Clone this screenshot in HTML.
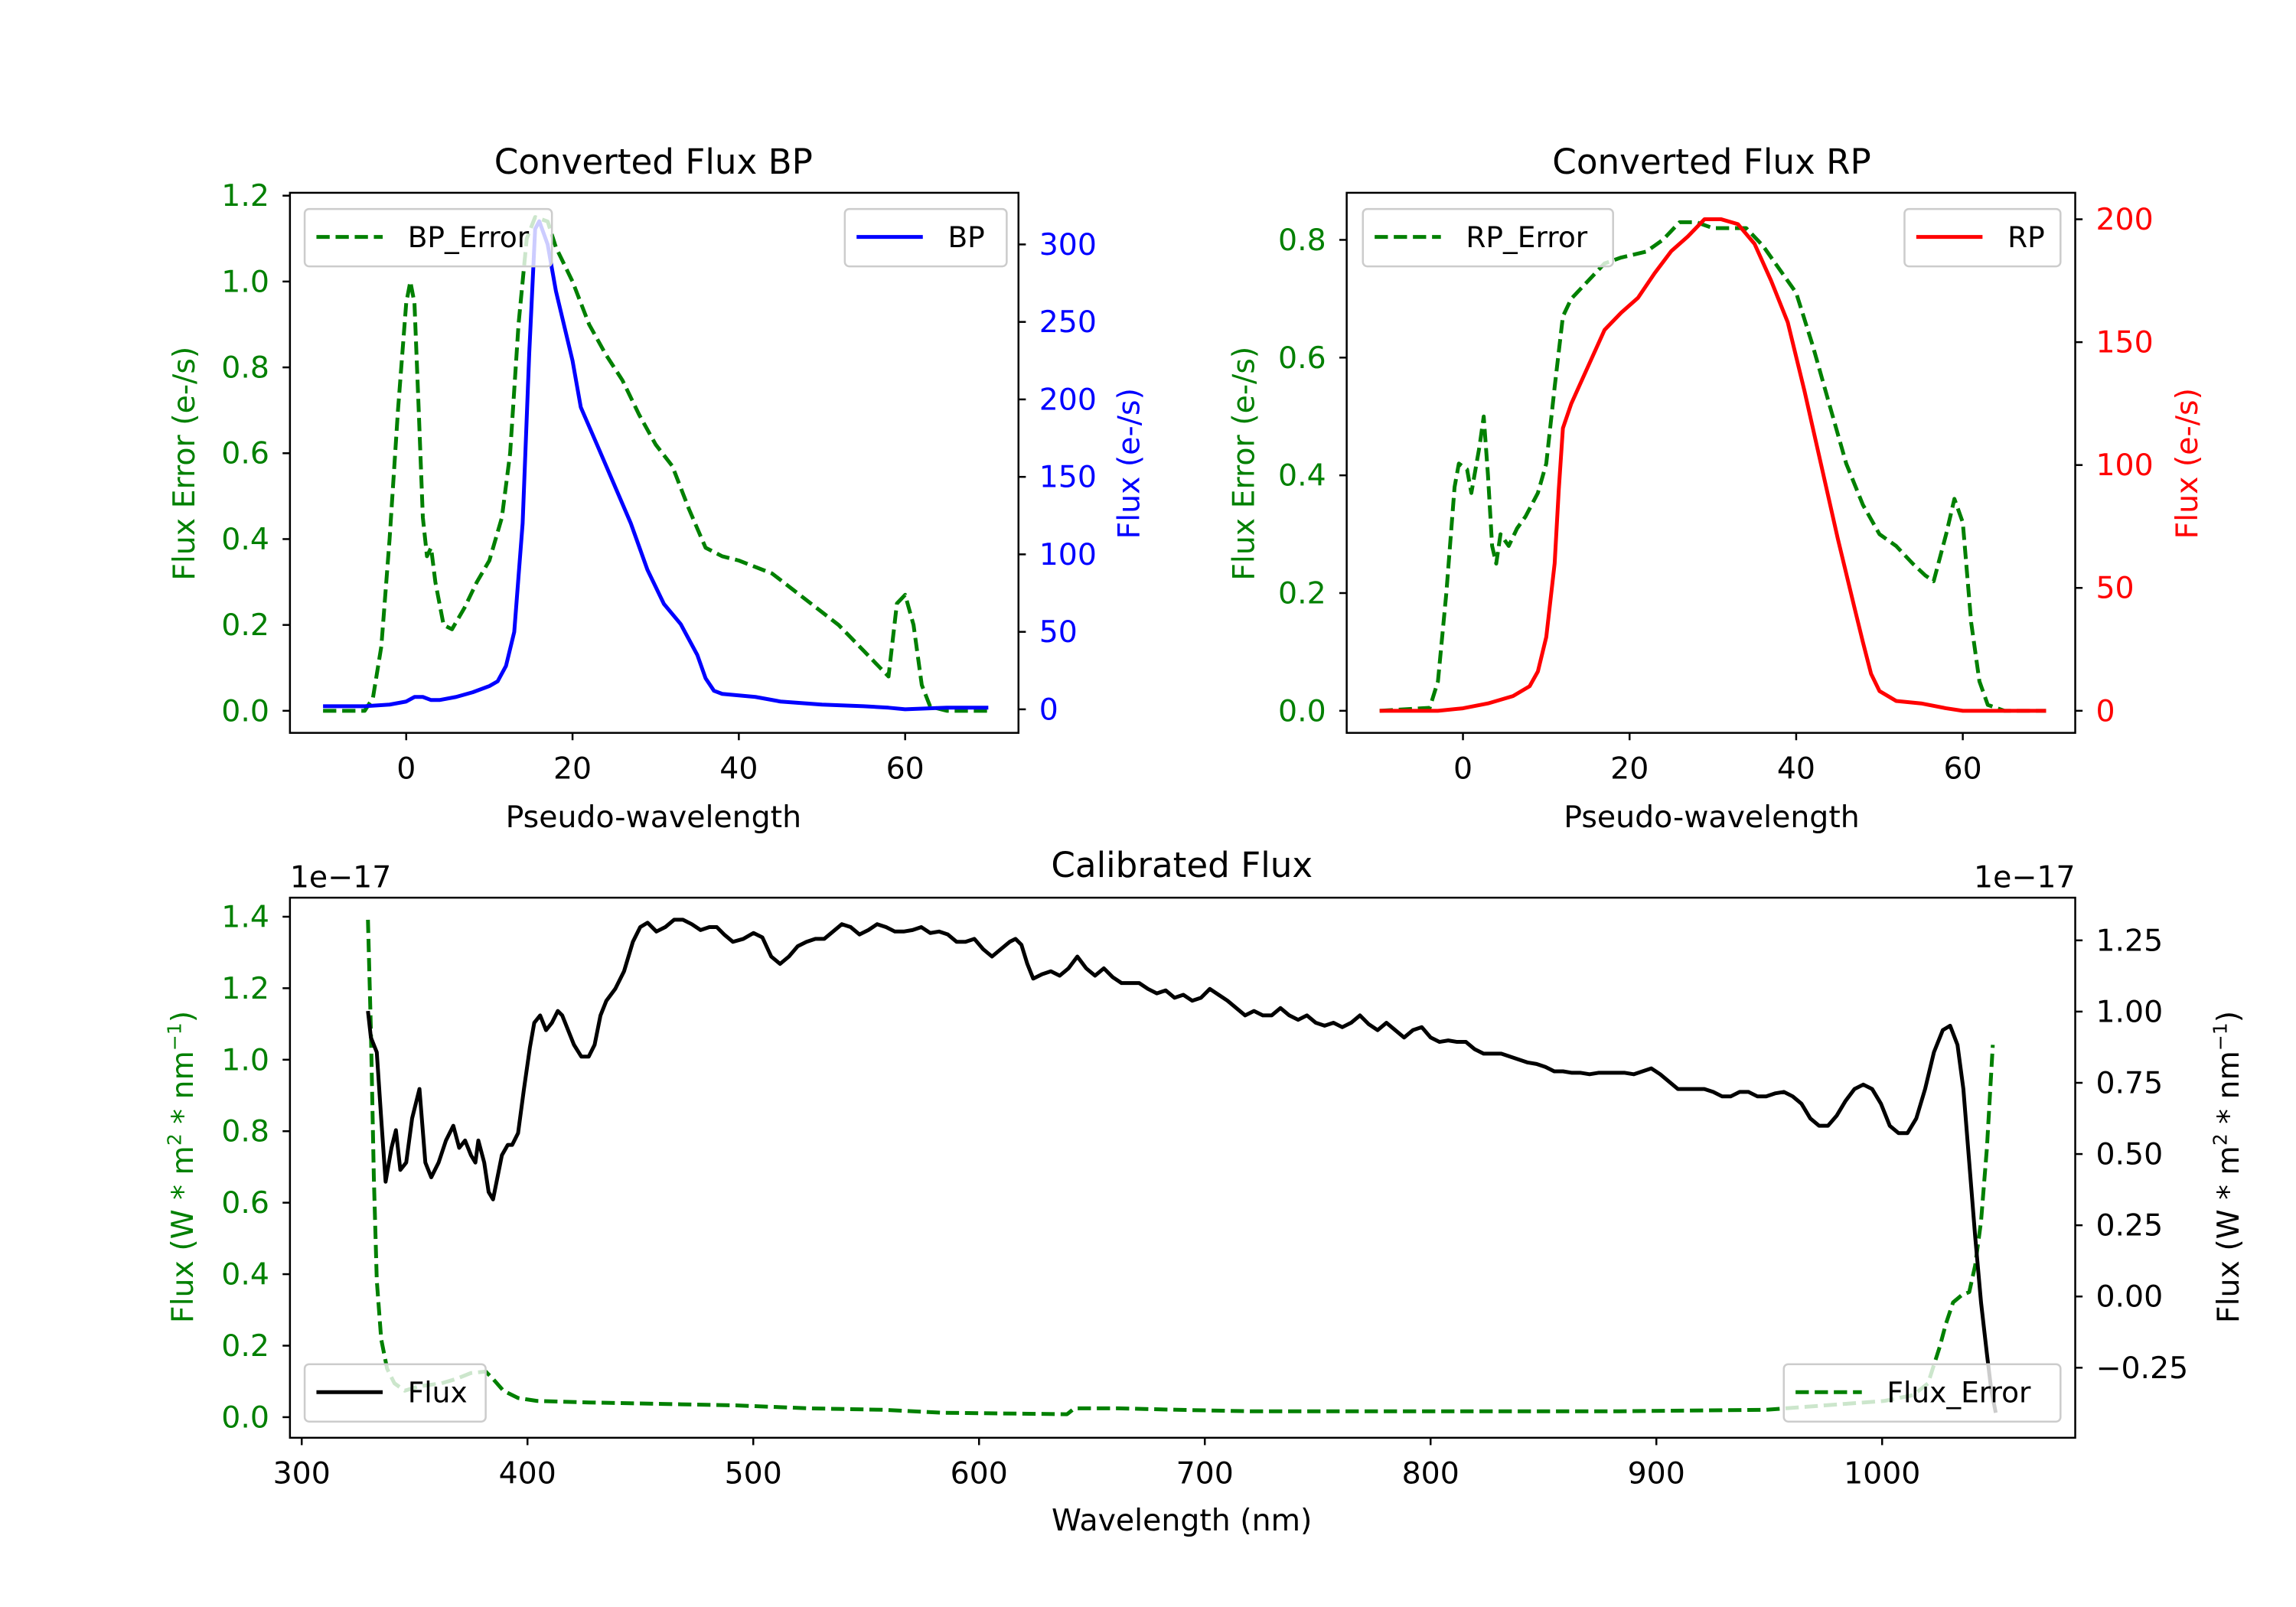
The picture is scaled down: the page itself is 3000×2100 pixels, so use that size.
<!DOCTYPE html>
<html><head><meta charset="utf-8"><style>
html,body{margin:0;padding:0;background:#fff;}
svg{display:block;font-family:"DejaVu Sans","Liberation Sans",sans-serif;}
</style></head><body>
<svg id="s" width="3000" height="2100" viewBox="0 0 1560 1092" preserveAspectRatio="none" xmlns="http://www.w3.org/2000/svg">
<rect width="1560" height="1092" fill="#fff"/>
<g id="g"></g>
</svg>
<script>
var g=document.getElementById('g'),h='';
var TS=20.5,LS=20.5,TT=23.5,GS=19.5;
function P(pts,fx,fy){return pts.map(function(p,i){return (i?'L':'M')+fx(p[0]).toFixed(1)+' '+fy(p[1]).toFixed(1);}).join(' ');}
function line(d,c,dash,w){h+='<path d="'+d+'" fill="none" stroke="'+c+'" stroke-width="'+(w||2.6)+'" stroke-linejoin="round"'+(dash?' stroke-dasharray="9,4"':'')+'/>';}
function T(x,y,t,c,sz,anc,rot){h+='<text x="'+x+'" y="'+y+'" fill="'+(c||'#000')+'" font-size="'+(sz||TS)+'" text-anchor="'+(anc||'middle')+'"'+(rot?' transform="rotate(-90 '+x+' '+y+')"':'')+'>'+t+'</text>';}
function tick(x1,y1,x2,y2){h+='<line x1="'+x1+'" y1="'+y1+'" x2="'+x2+'" y2="'+y2+'" stroke="#000" stroke-width="1.3"/>';}
function legend(x,y,w,lab,c,dash){h+='<rect x="'+x+'" y="'+y+'" width="'+w+'" height="39" rx="3" fill="#fff" fill-opacity="0.8" stroke="#ccc" stroke-width="1.3"/>';
 h+='<line x1="'+(x+8)+'" y1="'+(y+19)+'" x2="'+(x+53)+'" y2="'+(y+19)+'" stroke="'+c+'" stroke-width="2.6"'+(dash?' stroke-dasharray="9,4"':'')+'/>';T(x+70,y+26,lab,'#000',GS,'start');}
// ---- Panel BP
var bx=function(v){return 276+v*5.65},bl=function(v){return 483-v*291.7},br=function(v){return 482-v*1.053};
var bpe=[[-10,0],[-5,0],[-4,0.03],[-3,0.15],[-2,0.4],[-1,0.7],[0,0.95],[0.5,1.0],[1,0.95],[1.5,0.7],[2,0.45],[2.5,0.36],[3,0.38],[3.5,0.3],[4.5,0.2],[5.5,0.19],[7,0.24],[8.5,0.3],[10,0.35],[11.5,0.45],[12.5,0.6],[13.5,0.9],[14.5,1.1],[15.5,1.15],[17,1.14],[18,1.08],[20,1.0],[22,0.9],[24,0.83],[26,0.77],[28,0.69],[30,0.62],[32,0.57],[34,0.47],[36,0.38],[38,0.36],[40,0.35],[44,0.32],[48,0.26],[52,0.2],[55,0.14],[57,0.1],[58,0.08],[59,0.25],[60,0.27],[61,0.2],[62,0.06],[63,0.01],[65,0],[70,0]];
var bp=[[-10,2],[-5,2],[-2,3],[0,5],[1,8],[2,8],[3,6],[4,6],[6,8],[8,11],[10,15],[11,18],[12,28],[13,50],[14,120],[14.8,230],[15.5,310],[16,315],[17,300],[18,270],[20,225],[21,195],[23,170],[25,145],[27,120],[29,90],[31,68],[33,55],[35,35],[36,20],[37,12],[38,10],[42,8],[45,5],[50,3],[55,2],[58,1],[60,0],[65,1],[70,1]];
line(P(bpe,bx,bl),'green',1);line(P(bp,bx,br),'blue',0);
h+='<rect x="197" y="131" width="495" height="367" fill="none" stroke="#000" stroke-width="1.3"/>';
[0,20,40,60].forEach(function(v){var x=bx(v);tick(x,498,x,503);T(x,529,v);});
[0,.2,.4,.6,.8,1,1.2].forEach(function(v){var y=bl(v);tick(192,y,197,y);T(183,y+7,v.toFixed(1),'green',TS,'end');});
[0,50,100,150,200,250,300].forEach(function(v){var y=br(v);tick(692,y,697,y);T(706,y+7,v,'blue',TS,'start');});
T(444,118,'Converted Flux BP','#000',TT);T(444,562,'Pseudo-wavelength','#000',LS);
T(132,315,'Flux Error (e-/s)','green',LS,'middle',1);T(774,315,'Flux (e-/s)','blue',LS,'middle',1);
legend(207,142,168,'BP_Error','green',1);legend(574,142,110,'BP','blue',0);
// ---- Panel RP
var rx=function(v){return 994+v*5.66},rl=function(v){return 483-v*400},rr=function(v){return 483-v*1.67};
var rpe=[[-10,0],[-4,0.005],[-3,0.05],[-2,0.2],[-1,0.38],[-0.5,0.42],[0.5,0.41],[1,0.37],[2,0.45],[2.5,0.5],[3,0.4],[3.5,0.28],[4,0.25],[4.5,0.3],[5.5,0.28],[6.5,0.31],[7.5,0.33],[9,0.37],[10,0.42],[11,0.55],[12,0.67],[13,0.7],[15,0.73],[17,0.76],[19,0.77],[22,0.78],[24,0.8],[26,0.83],[28,0.83],[30,0.82],[32,0.82],[34,0.82],[36,0.79],[38,0.75],[40,0.71],[42,0.62],[44,0.52],[46,0.42],[48,0.35],[50,0.3],[52,0.28],[54,0.25],[55.5,0.23],[56.5,0.22],[58,0.3],[59,0.36],[60,0.32],[61,0.15],[62,0.05],[63,0.01],[65,0],[70,0]];
var rp=[[-10,0],[-3,0],[0,1],[3,3],[6,6],[8,10],[9,16],[10,30],[11,60],[11.5,90],[12,115],[13,125],[15,140],[17,155],[19,162],[21,168],[23,178],[25,187],[27,193],[29,200],[31,200],[33,198],[35,190],[37,175],[39,158],[41,130],[43,100],[45,70],[47,42],[48,28],[49,15],[50,8],[52,4],[55,3],[58,1],[60,0],[70,0]];
line(P(rpe,rx,rl),'green',1);line(P(rp,rx,rr),'red',0);
h+='<rect x="915" y="131" width="495" height="367" fill="none" stroke="#000" stroke-width="1.3"/>';
[0,20,40,60].forEach(function(v){var x=rx(v);tick(x,498,x,503);T(x,529,v);});
[0,.2,.4,.6,.8].forEach(function(v){var y=rl(v);tick(910,y,915,y);T(901,y+7,v.toFixed(1),'green',TS,'end');});
[0,50,100,150,200].forEach(function(v){var y=rr(v);tick(1410,y,1415,y);T(1424,y+7,v,'red',TS,'start');});
T(1163,118,'Converted Flux RP','#000',TT);T(1163,562,'Pseudo-wavelength','#000',LS);
T(852,315,'Flux Error (e-/s)','green',LS,'middle',1);T(1493,315,'Flux (e-/s)','red',LS,'middle',1);
legend(926,142,170,'RP_Error','green',1);legend(1294,142,106,'RP','red',0);
// ---- Bottom
var id=function(v){return v};
var fl=[[250,687],[252,705],[256,715],[259,760],[262,803],[266,780],[269,768],[272,795],[276,790],[280,760],[285,740],[289,790],[293,800],[298,790],[303,775],[308,765],[312,780],[316,775],[320,785],[323,790],[325,775],[329,790],[332,810],[335,815],[338,800],[341,785],[345,778],[348,778],[352,770],[356,740],[360,712],[363,695],[367,690],[371,700],[375,695],[379,687],[382,690],[386,700],[390,710],[395,718],[400,718],[404,710],[408,690],[412,680],[418,672],[424,660],[430,640],[435,630],[440,627],[446,633],[452,630],[458,625],[464,625],[470,628],[476,632],[482,630],[487,630],[492,635],[498,640],[505,638],[512,634],[518,637],[524,650],[530,655],[536,650],[542,643],[548,640],[554,638],[560,638],[566,633],[572,628],[578,630],[584,635],[590,632],[596,628],[602,630],[608,633],[614,633],[620,632],[626,630],[632,634],[638,633],[644,635],[650,640],[656,640],[662,638],[668,645],[674,650],[680,645],[686,640],[690,638],[694,642],[698,655],[702,665],[708,662],[714,660],[720,663],[726,658],[732,650],[738,658],[744,663],[750,658],[756,664],[762,668],[768,668],[774,668],[780,672],[786,675],[792,673],[798,678],[804,676],[810,680],[816,678],[822,672],[828,676],[834,680],[840,685],[846,690],[852,687],[858,690],[864,690],[870,685],[876,690],[882,693],[888,690],[894,695],[900,697],[906,695],[912,698],[918,695],[924,690],[930,696],[936,700],[942,695],[948,700],[954,705],[960,700],[966,698],[972,705],[978,708],[984,707],[990,708],[996,708],[1002,713],[1008,716],[1014,716],[1020,716],[1026,718],[1032,720],[1038,722],[1044,723],[1050,725],[1056,728],[1062,728],[1068,729],[1074,729],[1080,730],[1086,729],[1092,729],[1098,729],[1104,729],[1110,730],[1116,728],[1122,726],[1128,730],[1134,735],[1140,740],[1146,740],[1152,740],[1158,740],[1164,742],[1170,745],[1176,745],[1182,742],[1188,742],[1194,745],[1200,745],[1206,743],[1212,742],[1218,745],[1224,750],[1230,760],[1236,765],[1242,765],[1248,758],[1254,748],[1260,740],[1266,737],[1272,740],[1278,750],[1284,765],[1290,770],[1296,770],[1302,760],[1308,740],[1314,715],[1320,700],[1325,697],[1330,710],[1334,740],[1338,790],[1342,840],[1346,885],[1350,920],[1353,945],[1356,960]];
var fe=[[250,625],[252,700],[254,800],[256,870],[259,910],[263,930],[268,940],[275,945],[285,942],[300,940],[310,937],[320,933],[330,932],[335,937],[342,945],[352,950],[365,952],[400,953],[450,954],[500,955],[550,957],[600,958],[640,960],[725,961],[730,957],[760,957],[800,958],[850,959],[900,959],[1000,959],[1100,959],[1200,958],[1240,955],[1280,952],[1300,948],[1310,940],[1318,915],[1322,900],[1327,885],[1333,880],[1338,878],[1342,860],[1346,830],[1350,780],[1354,710]];
line(P(fe,id,id),'green',1);line(P(fl,id,id),'#000',0);
h+='<rect x="197" y="610" width="1213" height="367" fill="none" stroke="#000" stroke-width="1.3"/>';
var wx=function(v){return 205+(v-300)*1.534};
[300,400,500,600,700,800,900,1000].forEach(function(v){var x=wx(v);tick(x,977,x,982);T(x,1008,v);});
[0,.2,.4,.6,.8,1,1.2,1.4].forEach(function(v){var y=963-v*242.9;tick(192,y,197,y);T(183,y+7,v.toFixed(1),'green',TS,'end');});
[-0.25,0,0.25,0.5,0.75,1,1.25].forEach(function(v){var y=881-v*193.6;tick(1410,y,1415,y);T(1424,y+7,(v<0?'\u2212':'')+Math.abs(v).toFixed(2),'#000',TS,'start');});
T(803,596,'Calibrated Flux','#000',TT);T(803,1040,'Wavelength (nm)','#000',LS);
T(197,603,'1e\u221217','#000',TS,'start');T(1410,603,'1e\u221217','#000',TS,'end');
T(131,793,'Flux (W * m<tspan font-size="13" dy="-8">2</tspan><tspan dy="8"> * nm</tspan><tspan font-size="13" dy="-8">\u22121</tspan><tspan dy="8">)</tspan>','green',LS,'middle',1);
T(1521,793,'Flux (W * m<tspan font-size="13" dy="-8">2</tspan><tspan dy="8"> * nm</tspan><tspan font-size="13" dy="-8">\u22121</tspan><tspan dy="8">)</tspan>','#000',LS,'middle',1);
legend(207,927,123,'Flux','#000',0);legend(1212,927,188,'Flux_Error','green',1);
g.innerHTML=h;
</script>
</body></html>
